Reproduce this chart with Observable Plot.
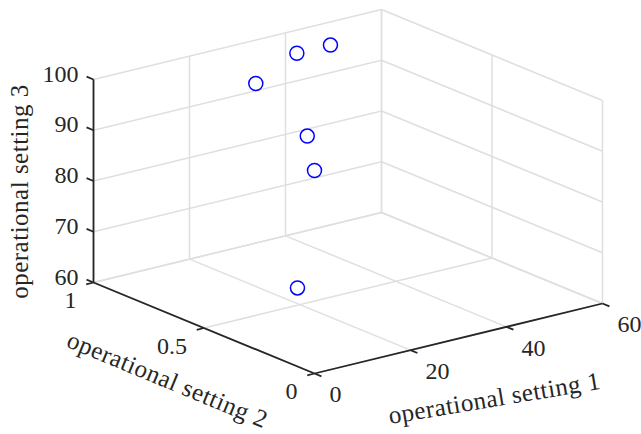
<!DOCTYPE html>
<html>
<head>
<meta charset="utf-8">
<script src="https://cdn.jsdelivr.net/npm/d3@7"></script>
<script src="https://cdn.jsdelivr.net/npm/@observablehq/plot@0.6"></script>
<style>
  html, body { margin: 0; padding: 0; background: #fff; }
  #chart svg { display: block; }
</style>
</head>
<body>
<div id="chart"></div>
<script>
// ---- data ----
const setting1 = [0, 10, 20, 25, 35, 42];
const setting2 = [0, 0.25, 0.7, 0.62, 0.84, 0.84];
const setting3 = [100, 100, 100, 60, 100, 100];

const xTicks = [0, 20, 40, 60];
const yTicks = [0, 0.5, 1];
const zTicks = [60, 70, 80, 90, 100];
const xTickLabels = ["0", "20", "40", "60"];
const yTickLabels = ["0", "0.5", "1"];
const zTickLabels = ["60", "70", "80", "90", "100"];

const xLabel = "operational setting 1";
const yLabel = "operational setting 2";
const zLabel = "operational setting 3";

const xDomain = [0, 60];
const yDomain = [0, 1];
const zDomain = [60, 100];

// ---- 3D view (orthographic box projection, MATLAB-like view) ----
const W = 641, H = 434;
const box = {origin: [314, 373], ex: [288, -70], ey: [-221, -91], ez: [0, -203]};
function proj(x, y, z) {
  const u = (x - xDomain[0]) / (xDomain[1] - xDomain[0]);
  const v = (y - yDomain[0]) / (yDomain[1] - yDomain[0]);
  const w = (z - zDomain[0]) / (zDomain[1] - zDomain[0]);
  return [
    box.origin[0] + u * box.ex[0] + v * box.ey[0] + w * box.ez[0],
    box.origin[1] + u * box.ex[1] + v * box.ey[1] + w * box.ez[1]
  ];
}
function unit(v) { const l = Math.hypot(v[0], v[1]); return [v[0] / l, v[1] / l]; }
function seg(a, b) { const p = proj(...a), q = proj(...b); return {x1: p[0], y1: p[1], x2: q[0], y2: q[1]}; }

const [x0, x1] = xDomain, [y0, y1] = yDomain, [z0, z1] = zDomain;

// grid lines on the back walls and floor
const grid = [];
for (const x of xTicks) { grid.push(seg([x, y1, z0], [x, y1, z1])); grid.push(seg([x, y0, z0], [x, y1, z0])); }
for (const y of yTicks) { grid.push(seg([x1, y, z0], [x1, y, z1])); grid.push(seg([x0, y, z0], [x1, y, z0])); }
for (const z of zTicks) { grid.push(seg([x0, y1, z], [x1, y1, z])); grid.push(seg([x1, y0, z], [x1, y1, z])); }

// axis lines
const axes = [
  seg([x0, y0, z0], [x1, y0, z0]),
  seg([x0, y0, z0], [x0, y1, z0]),
  seg([x0, y1, z0], [x0, y1, z1])
];

// tick marks
const tickLen = 7.5;
const dxT = unit([-box.ey[0], -box.ey[1]]);
const dyT = unit([-box.ex[0], -box.ex[1]]);
const dzT = unit([box.ey[0], box.ey[1]]);
const ticks = [];
const tickText = [];
xTicks.forEach((x, i) => {
  const p = proj(x, y0, z0);
  ticks.push({x1: p[0], y1: p[1], x2: p[0] + dxT[0] * tickLen, y2: p[1] + dxT[1] * tickLen});
  tickText.push({x: p[0] + 15, y: p[1] + 21, text: xTickLabels[i], anchor: "start"});
});
yTicks.forEach((y, i) => {
  const p = proj(x0, y, z0);
  ticks.push({x1: p[0], y1: p[1], x2: p[0] + dyT[0] * tickLen, y2: p[1] + dyT[1] * tickLen});
  tickText.push({x: p[0] - 17, y: p[1] + 18, text: yTickLabels[i], anchor: "end"});
});
zTicks.forEach((z, i) => {
  const p = proj(x0, y1, z);
  ticks.push({x1: p[0], y1: p[1], x2: p[0] + dzT[0] * tickLen, y2: p[1] + dzT[1] * tickLen});
  tickText.push({x: p[0] - 15, y: p[1] - 5.5, text: zTickLabels[i], anchor: "end"});
});

// data points
const points = setting1.map((s1, i) => {
  const p = proj(s1, setting2[i], setting3[i]);
  return {px: p[0], py: p[1]};
});

// axis titles
const titles = [
  {x: 494, y: 398, text: xLabel, rotate: -9.5},
  {x: 167, y: 379.5, text: yLabel, rotate: 22.5},
  {x: 19, y: 191, text: zLabel, rotate: -90}
];

const font = "'Liberation Serif', 'Times New Roman', serif";
const ink = "#262626";

const plot = Plot.plot({
  width: W,
  height: H,
  margin: 0,
  x: {type: "identity", axis: null},
  y: {type: "identity", axis: null},
  style: {background: "#fff", fontFamily: font},
  marks: [
    Plot.link(grid, {x1: "x1", y1: "y1", x2: "x2", y2: "y2", stroke: "#dfdfdf", strokeWidth: 1.5}),
    Plot.link(axes, {x1: "x1", y1: "y1", x2: "x2", y2: "y2", stroke: ink, strokeWidth: 1.8}),
    Plot.link(ticks, {x1: "x1", y1: "y1", x2: "x2", y2: "y2", stroke: ink, strokeWidth: 1.8}),
    Plot.dot(points, {x: "px", y: "py", r: 7, stroke: "#0000ff", strokeWidth: 1.5, fill: "none"}),
    Plot.text(tickText.filter(d => d.anchor === "start"), {x: "x", y: "y", text: "text", textAnchor: "start", lineAnchor: "middle", fontSize: 24, fill: ink}),
    Plot.text(tickText.filter(d => d.anchor === "end"), {x: "x", y: "y", text: "text", textAnchor: "end", lineAnchor: "middle", fontSize: 24, fill: ink}),
    ...titles.map(t => Plot.text([t], {x: "x", y: "y", text: "text", rotate: t.rotate, textAnchor: "middle", lineAnchor: "middle", fontSize: 25, fill: ink}))
  ]
});
const titleSet = new Set(titles.map(t => t.text));
d3.select(plot).selectAll("text")
  .filter(function () { return titleSet.has(this.textContent); })
  .attr("letter-spacing", "0.5px")
  .style("letter-spacing", "0.5px");
document.getElementById("chart").appendChild(plot);
</script>
</body>
</html>
